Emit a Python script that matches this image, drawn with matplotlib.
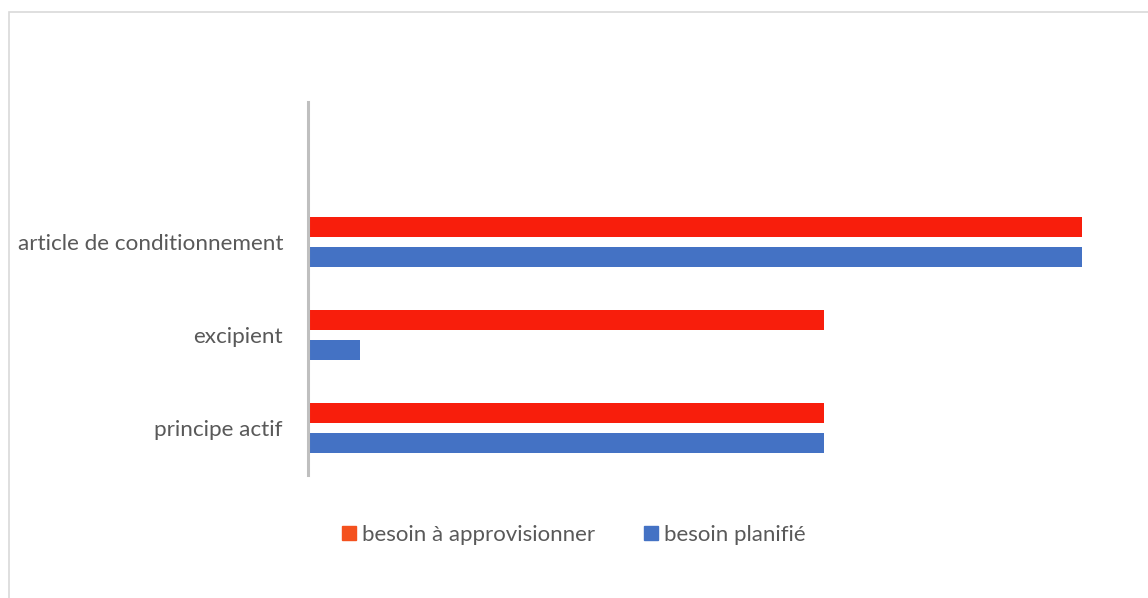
import matplotlib

matplotlib.use("Agg")
import matplotlib.pyplot as plt  # noqa: E402
from matplotlib.patches import Rectangle  # noqa: E402

# categories bottom -> top, with an empty top slot as in the source chart
categories = ["principe actif", "excipient", "article de conditionnement"]
besoin_appro = [10, 10, 15]
besoin_planifie = [10, 1, 15]
series_labels = ["besoin à approvisionner", "besoin planifié"]

RED = "#F81E0C"
RED_LEG = "#F4511E"
BLUE = "#4472C4"
GREY_TXT = "#595959"

plt.rcParams["font.family"] = ["Lato", "DejaVu Sans"]

W, H = 1148, 598
fig = plt.figure(figsize=(W / 100, H / 100), dpi=100)
fig.patches.append(Rectangle((9 / W, -0.1), 1.2, 1 - 12 / H + 0.1, transform=fig.transFigure,
                             fill=False, edgecolor="#D9D9D9", lw=1.2))

ax = fig.add_axes([308 / W, 1 - 475 / H, (1134 - 308) / W, 373 / H])
y = list(range(len(categories)))
bh = 0.215
off = 0.16
ax.barh([v - off for v in y], besoin_planifie, height=bh, color=BLUE)
ax.barh([v + off for v in y], besoin_appro, height=bh, color=RED)
ax.set_xlim(0, 16)
ax.set_ylim(-0.5, 3.5)  # one empty slot at the top
ax.set_yticks(y)
ax.set_yticklabels(categories, fontsize=16.2, color=GREY_TXT)
ax.tick_params(axis="y", length=0, pad=18)
ax.set_xticks([])
for s in ("top", "right", "bottom"):
    ax.spines[s].set_visible(False)
ax.spines["left"].set_color("#BFBFBF")
ax.spines["left"].set_linewidth(2.2)

handles = [Rectangle((0, 0), 1, 1, color=RED_LEG), Rectangle((0, 0), 1, 1, color=BLUE)]
fig.legend(handles, series_labels, loc="center", bbox_to_anchor=(574 / W, 1 - 535 / H),
           ncol=2, frameon=False, fontsize=16, labelcolor=GREY_TXT,
           handlelength=0.6, handleheight=0.6, handletextpad=0.3, columnspacing=2.2)

fig.savefig("out.png", dpi=100)
